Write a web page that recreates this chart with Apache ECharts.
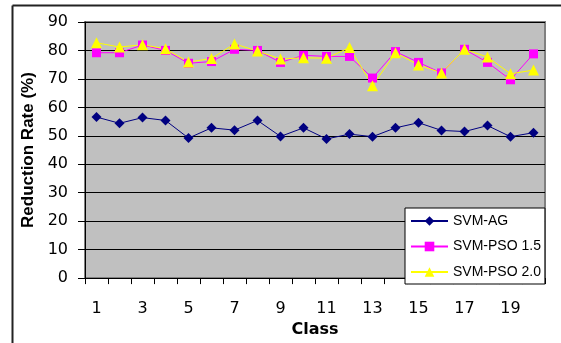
<!DOCTYPE html>
<html>
<head>
<meta charset="utf-8">
<script src="https://cdn.jsdelivr.net/npm/echarts@6/dist/echarts.min.js"></script>
<style>
  html, body { margin: 0; padding: 0; background: #fff; }
  #chart { width: 561px; height: 343px; }
</style>
</head>
<body>
<div id="chart"></div>
<script>
// Class indices on the horizontal axis
const classes = ['1','2','3','4','5','6','7','8','9','10','11','12','13','14','15','16','17','18','19','20'];

// Reduction rate (%) per class for each method
const svmAG = [56.6, 54.4, 56.4, 55.4, 49.2, 52.8, 52.0, 55.4, 49.8, 52.8,
               48.9, 50.6, 49.7, 52.8, 54.6, 51.9, 51.5, 53.6, 49.7, 51.1];
const svmPso15 = [79.2, 79.2, 81.9, 80.0, 75.5, 76.1, 80.4, 80.0, 75.8, 78.3,
                  77.9, 77.9, 70.3, 79.6, 75.8, 72.1, 80.4, 75.8, 69.7, 78.8];
const svmPso20 = [82.7, 81.2, 82.0, 80.6, 75.9, 77.2, 82.3, 79.8, 77.0, 77.4,
                  77.3, 81.0, 67.6, 79.2, 74.9, 72.1, 80.4, 77.7, 71.8, 73.1];

const seriesNames = ['SVM-AG', 'SVM-PSO 1.5', 'SVM-PSO 2.0'];
const yTicks = { min: 0, max: 90, step: 10 };

const SANS = 'Liberation Sans, Arial, sans-serif';
const WIDE = 'DejaVu Sans, Verdana, sans-serif';
const chart = echarts.init(document.getElementById('chart'), null, { renderer: 'canvas' });

const plot = { left: 85, top: 22, width: 460, height: 262 };

chart.setOption({
  animation: false,
  backgroundColor: '#ffffff',
  textStyle: { fontFamily: SANS },
  grid: {
    left: plot.left, top: plot.top, width: plot.width, height: plot.height,
    show: true, backgroundColor: '#c0c0c0', borderColor: '#808080', borderWidth: 2
  },
  graphic: [
    // outer chart frame (top and left edges)
    { type: 'line', shape: { x1: 12.5, y1: 5.5, x2: 561, y2: 5.5 }, style: { stroke: '#222', lineWidth: 2 }, z: 10 },
    { type: 'line', shape: { x1: 12.5, y1: 5.5, x2: 12.5, y2: 343 }, style: { stroke: '#222', lineWidth: 2 }, z: 10 }
  ],
  legend: {
    data: seriesNames,
    orient: 'vertical',
    left: 405, bottom: 59,
    backgroundColor: '#ffffff',
    borderColor: '#000000', borderWidth: 1,
    borderRadius: 0,
    padding: [6, 4, 5, 5],
    itemWidth: 37, itemHeight: 12, itemGap: 11.5,
    textStyle: { fontFamily: SANS, fontSize: 14, lineHeight: 12, color: '#000' },
    z: 20
  },
  xAxis: {
    type: 'category',
    data: classes,
    boundaryGap: true,
    name: 'Class',
    nameLocation: 'middle',
    nameGap: 36,
    nameTextStyle: { fontFamily: WIDE, fontSize: 16, fontWeight: 'bold', color: '#000' },
    axisLine: { lineStyle: { color: '#000', width: 1 } },
    axisTick: { show: true, interval: 0, length: 6, lineStyle: { color: '#000' } },
    axisLabel: { interval: 1, margin: 23, fontFamily: WIDE, fontSize: 16, color: '#000' },
    splitLine: { show: false }
  },
  yAxis: {
    type: 'value',
    min: yTicks.min, max: yTicks.max, interval: yTicks.step,
    name: 'Reduction Rate (%)',
    nameLocation: 'middle',
    nameGap: 42,
    nameTextStyle: { fontFamily: SANS, fontSize: 17, fontWeight: 'bold', color: '#000' },
    axisLine: { show: true, lineStyle: { color: '#000', width: 1 } },
    axisTick: { show: true, length: 7, lineStyle: { color: '#000' } },
    axisLabel: { margin: 17, fontFamily: WIDE, fontSize: 16, color: '#000' },
    splitLine: { show: true, lineStyle: { color: '#000', width: 1 } }
  },
  series: [
    {
      name: seriesNames[0], type: 'line', data: svmAG,
      symbol: 'diamond', symbolSize: 10,
      lineStyle: { color: '#000080', width: 1 },
      itemStyle: { color: '#000080' }
    },
    {
      name: seriesNames[1], type: 'line', data: svmPso15,
      symbol: 'rect', symbolSize: 9,
      lineStyle: { color: '#ff00ff', width: 1 },
      itemStyle: { color: '#ff00ff' }
    },
    {
      name: seriesNames[2], type: 'line', data: svmPso20,
      symbol: 'triangle', symbolSize: 11,
      lineStyle: { color: '#ffff00', width: 1 },
      itemStyle: { color: '#ffff00' }
    }
  ]
});
</script>
</body>
</html>
